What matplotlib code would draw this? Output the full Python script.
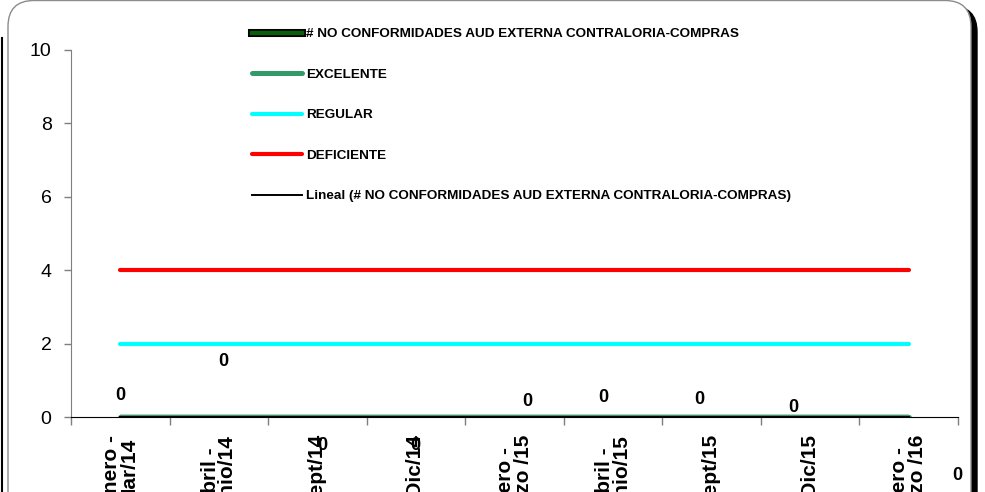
# -*- coding: utf-8 -*-
import numpy as np
import matplotlib
matplotlib.use("Agg")
import matplotlib.pyplot as plt
import matplotlib.patheffects as pe
from matplotlib.patches import FancyBboxPatch
from matplotlib.lines import Line2D
from matplotlib.transforms import IdentityTransform

plt.rcParams["font.family"] = ["Liberation Sans", "DejaVu Sans"]

# Datos
periodos = ["Enero -\nMar/14", "Abril -\nJunio/14", "Julio - Sept/14", "Oct - Dic/14",
            "Enero -\nMarzo /15", "Abril -\nJunio/15", "Julio - Sept/15", "Oct - Dic/15",
            "Enero -\nMarzo /16"]
no_conformidades = [0, 0, 0, 0, 0, 0, 0, 0, 0]
excelente = [0, 0, 0, 0, 0, 0, 0, 0, 0]
regular = [2, 2, 2, 2, 2, 2, 2, 2, 2]
deficiente = [4, 4, 4, 4, 4, 4, 4, 4, 4]
# desplazamiento (pixeles) de las etiquetas de datos, movidas a mano en el original
offsets_etiquetas = [(0, 22), (4, 55), (5, -28), (-1, -28), (13, 15),
                     (-10, 20), (-12, 18), (-17, 9), (49, -58)]

x = np.arange(len(periodos))

fig = plt.figure(figsize=(9.85, 4.92), dpi=100)

# Marco redondeado con sombra
sombra = FancyBboxPatch((14, -40), 963, 526, boxstyle="round,pad=0,rounding_size=26",
                        transform=IdentityTransform(), facecolor="black", edgecolor="black",
                        zorder=-11)
marco = FancyBboxPatch((8, -40), 963, 531.5, boxstyle="round,pad=0,rounding_size=26",
                       transform=IdentityTransform(), facecolor="white", edgecolor="#8c8c8c",
                       linewidth=1, zorder=-10)
fig.add_artist(sombra)
fig.add_artist(marco)
fig.add_artist(Line2D([1.5, 1.5], [0, 454], transform=IdentityTransform(), color="black",
                      linewidth=1.5, zorder=-9))

ax = fig.add_axes([71 / 985, 1 - 417 / 492, 887 / 985, 367 / 492])
ax.set_facecolor("none")

etiqueta_serie = "# NO CONFORMIDADES AUD EXTERNA CONTRALORIA-COMPRAS"
serie, = ax.plot(x, no_conformidades, color="#0b5e0b", linewidth=2, solid_capstyle="butt",
                 zorder=3)
serie.set_path_effects([pe.Stroke(linewidth=3.2, foreground="black"), pe.Normal()])
l_exc, = ax.plot(x, excelente, color="#339966", linewidth=3.6, solid_capstyle="round",
                 label="EXCELENTE", zorder=4)
l_reg, = ax.plot(x, regular, color="#00ffff", linewidth=3, solid_capstyle="round",
                 label="REGULAR", zorder=4)
l_def, = ax.plot(x, deficiente, color="#ff0000", linewidth=3, solid_capstyle="round",
                 label="DEFICIENTE", zorder=4)
# Linea de tendencia lineal
coef = np.polyfit(x, no_conformidades, 1)
l_lin, = ax.plot(x, np.polyval(coef, x), color="black", linewidth=1.4,
                 label="Lineal (# NO CONFORMIDADES AUD EXTERNA CONTRALORIA-COMPRAS)", zorder=5)

# Etiquetas de datos
for xi, val, off in zip(x, no_conformidades, offsets_etiquetas):
    ax.annotate(f"{val:g}", (xi, val), xytext=off, textcoords="offset pixels",
                ha="center", va="center", fontsize=13, fontweight="bold",
                annotation_clip=False, zorder=6)

ax.set_xlim(-0.5, len(periodos) - 0.5)
ax.set_ylim(0, 10)
ax.set_yticks([0, 2, 4, 6, 8, 10])
ax.tick_params(axis="y", direction="out", length=5, width=1, color="#7f7f7f",
               labelsize=14, pad=9)
ax.set_xticks(x)
ax.set_xticklabels(periodos, rotation=90, fontsize=15, fontweight="bold",
                   ha="center", va="top", multialignment="center", linespacing=0.9)
ax.set_xticks(np.arange(-0.5, len(periodos)), minor=True)
ax.tick_params(axis="x", which="major", length=0, pad=13)
ax.tick_params(axis="x", which="minor", direction="out", length=6, width=1, color="#7f7f7f")

for lado in ["top", "right"]:
    ax.spines[lado].set_visible(False)
ax.spines["left"].set_color("#7f7f7f")
ax.spines["bottom"].set_color("black")
ax.spines["bottom"].set_linewidth(0.8)

# Leyenda (el manejador de la serie se dibuja con borde negro)
h_serie = Line2D([], [], color="#0b5e0b", linewidth=3.2,
                 path_effects=[pe.Stroke(linewidth=5.8, foreground="black"), pe.Normal()])
fig.legend([h_serie, l_exc, l_reg, l_def, l_lin],
           [etiqueta_serie, "EXCELENTE", "REGULAR", "DEFICIENTE", l_lin.get_label()],
           loc="upper left", bbox_to_anchor=(252 / 985, 1 - 28 / 492), frameon=False,
           prop={"weight": "bold", "size": 9.7}, handlelength=3.7, handletextpad=0.3,
           labelspacing=2.08, borderpad=0, borderaxespad=0)

fig.savefig("out.png", dpi=100)
